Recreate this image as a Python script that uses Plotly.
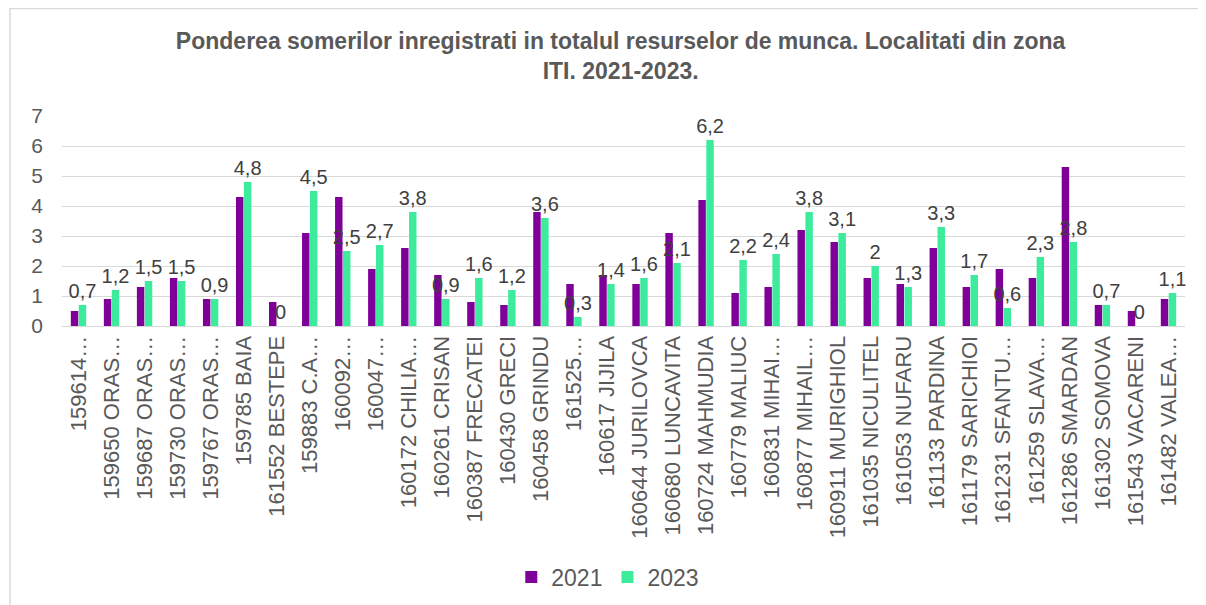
import plotly.graph_objects as go

categories = [
    "159614…", "159650 ORAS…", "159687 ORAS…", "159730 ORAS…", "159767 ORAS…",
    "159785 BAIA", "161552 BESTEPE", "159883 C.A…", "160092…", "160047…",
    "160172 CHILIA…", "160261 CRISAN", "160387 FRECATEI", "160430 GRECI", "160458 GRINDU",
    "161525…", "160617 JIJILA", "160644 JURILOVCA", "160680 LUNCAVITA", "160724 MAHMUDIA",
    "160779 MALIUC", "160831 MIHAI…", "160877 MIHAIL…", "160911 MURIGHIOL", "161035 NICULITEL",
    "161053 NUFARU", "161133 PARDINA", "161179 SARICHIOI", "161231 SFANTU…", "161259 SLAVA…",
    "161286 SMARDAN", "161302 SOMOVA", "161543 VACARENI", "161482 VALEA…",
]

values_2021 = [
    0.5, 0.9, 1.3, 1.6, 0.9, 4.3, 0.8, 3.1, 4.3, 1.9,
    2.6, 1.7, 0.8, 0.7, 3.8, 1.4, 1.7, 1.4, 3.1, 4.2,
    1.1, 1.3, 3.2, 2.8, 1.6, 1.4, 2.6, 1.3, 1.9, 1.6,
    5.3, 0.7, 0.5, 0.9,
]

values_2023 = [
    0.7, 1.2, 1.5, 1.5, 0.9, 4.8, 0.0, 4.5, 2.5, 2.7,
    3.8, 0.9, 1.6, 1.2, 3.6, 0.3, 1.4, 1.6, 2.1, 6.2,
    2.2, 2.4, 3.8, 3.1, 2.0, 1.3, 3.3, 1.7, 0.6, 2.3,
    2.8, 0.7, 0.0, 1.1,
]

series_names = ["2021", "2023"]
y_ticks = [0, 1, 2, 3, 4, 5, 6, 7]

FONT = "Liberation Sans, Arial, sans-serif"
GRAY = "#595959"


def fmt(v):
    s = ("%g" % v)
    return s.replace(".", ",")


fig = go.Figure()
fig.add_trace(go.Bar(
    x=categories, y=values_2021, name=series_names[0],
    marker=dict(color="#7f0099", line=dict(width=0)),
))
fig.add_trace(go.Bar(
    x=categories, y=values_2023, name=series_names[1],
    marker=dict(color="#3deb9c", line=dict(width=0)),
    text=[fmt(v) for v in values_2023],
    textposition="outside",
    constraintext="none",
    cliponaxis=False,
    textfont=dict(family=FONT, size=20, color="#404040"),
))

fig.update_layout(
    width=1206, height=605,
    paper_bgcolor="white", plot_bgcolor="white",
    margin=dict(l=54, r=29, t=108, b=287),
    barmode="group", bargap=0.52, bargroupgap=0.06,
    font=dict(family=FONT, color=GRAY),
    title=dict(
        text="<b>Ponderea somerilor inregistrati in totalul resurselor de munca. Localitati din zona<br>ITI. 2021-2023.</b>",
        x=0.508, xanchor="center", xref="container",
        y=0.932, yanchor="top", yref="container",
        font=dict(family=FONT, size=23, color=GRAY),
    ),
    legend=dict(
        orientation="h", x=0.486, xanchor="center", y=-1.195, yanchor="middle",
        font=dict(family=FONT, size=23, color=GRAY),
        itemwidth=30, traceorder="normal",
    ),
    xaxis=dict(
        tickangle=-90, tickfont=dict(family=FONT, size=22, color=GRAY),
        showline=True, linecolor="#d9d9d9", linewidth=1,
        ticks="", showgrid=False,
    ),
    yaxis=dict(
        range=[0, 7], tickvals=y_ticks,
        tickfont=dict(family=FONT, size=21, color=GRAY),
        ticklabelstandoff=18,
        showgrid=True, gridcolor="#d9d9d9", gridwidth=1,
        zeroline=True, zerolinecolor="#d9d9d9", zerolinewidth=1,
        ticks="", showline=False,
    ),
    shapes=[dict(
        type="rect", xref="paper", yref="paper",
        x0=-0.0463, x1=1.2, y0=-2.5, y1=1.512,
        line=dict(color="#d9d9d9", width=1.5), fillcolor="rgba(0,0,0,0)",
        layer="below",
    )],
)

fig.write_html("out.html")
